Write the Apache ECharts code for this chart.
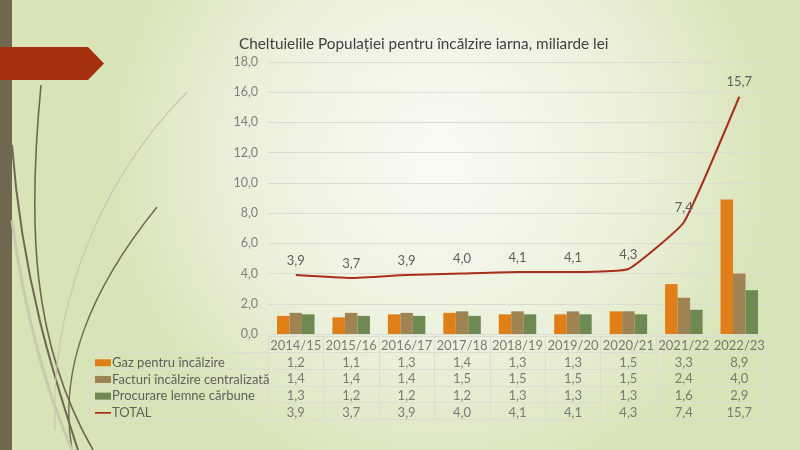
<!DOCTYPE html>
<html>
<head>
<meta charset="utf-8">
<script src="https://cdn.jsdelivr.net/npm/echarts@6/dist/echarts.min.js"></script>
<style>
  html, body { margin: 0; padding: 0; }
  #main { width: 800px; height: 450px; }
</style>
</head>
<body>
<div id="main"></div>
<script>
var categories = ['2014/15', '2015/16', '2016/17', '2017/18', '2018/19', '2019/20', '2020/21', '2021/22', '2022/23'];
var gaz = [1.2, 1.1, 1.3, 1.4, 1.3, 1.3, 1.5, 3.3, 8.9];
var facturi = [1.4, 1.4, 1.4, 1.5, 1.5, 1.5, 1.5, 2.4, 4.0];
var procurare = [1.3, 1.2, 1.2, 1.2, 1.3, 1.3, 1.3, 1.6, 2.9];
var total = [3.9, 3.7, 3.9, 4.0, 4.1, 4.1, 4.3, 7.4, 15.7];
var seriesNames = ['Gaz pentru încălzire', 'Facturi încălzire centralizată', 'Procurare lemne cărbune', 'TOTAL'];
var tableRows = ['hdr', 'gaz', 'facturi', 'procurare', 'total'];

var FONT = 'Lato';
var TXT = '#5f5f5f';
var GRIDC = '#dcdcd4';

function fmt(v) { return v.toFixed(1).replace('.', ','); }

// celule tabel de date
var cells = [];
categories.forEach(function (c, i) {
    cells.push([i, 0, c]);
    cells.push([i, 1, fmt(gaz[i])]);
    cells.push([i, 2, fmt(facturi[i])]);
    cells.push([i, 3, fmt(procurare[i])]);
    cells.push([i, 4, fmt(total[i])]);
});

var myChart = echarts.init(document.getElementById('main'));

var rowLines = [352.7, 369.3, 386, 402.7, 419.3];
var graphics = [
    { type: 'rect', shape: { x: 0, y: 0, width: 12, height: 450 }, style: { fill: '#6f6750' }, z: -5 },
    { type: 'polygon', shape: { points: [[0, 47], [88, 47], [104, 63.5], [88, 80], [0, 80]] }, style: { fill: '#a5300f' }, z: 5 },
    // linii decorative
    { type: 'bezierCurve', shape: { x1: 12, y1: 145, x2: 78, y2: 450, cpx1: 22, cpy1: 280, cpx2: 55, cpy2: 380 }, style: { stroke: '#6f6750', lineWidth: 2, fill: null }, z: -4 },
    { type: 'bezierCurve', shape: { x1: 41, y1: 85, x2: 93, y2: 450, cpx1: 28, cpy1: 220, cpx2: 30, cpy2: 340 }, style: { stroke: '#6f6750', lineWidth: 1.6, fill: null }, z: -4 },
    { type: 'bezierCurve', shape: { x1: 157, y1: 207, x2: 72, y2: 450, cpx1: 90, cpy1: 290, cpx2: 58, cpy2: 370 }, style: { stroke: '#6f6750', lineWidth: 1.4, fill: null }, z: -4 },
    { type: 'bezierCurve', shape: { x1: 187, y1: 92, x2: 55, y2: 430, cpx1: 90, cpy1: 190, cpx2: 50, cpy2: 320 }, style: { stroke: '#c9c8b0', lineWidth: 1.2, fill: null }, z: -4 },
    { type: 'bezierCurve', shape: { x1: 12, y1: 220, x2: 72, y2: 450, cpx1: 25, cpy1: 320, cpx2: 50, cpy2: 400 }, style: { stroke: '#c8ccac', lineWidth: 3, fill: null }, z: -4 },
    { type: 'line', shape: { x1: 89, y1: 352.7, x2: 89, y2: 419.3 }, style: { stroke: GRIDC, lineWidth: 1 } }
];
rowLines.forEach(function (y) {
    graphics.push({ type: 'line', shape: { x1: 89, y1: y, x2: 268, y2: y }, style: { stroke: GRIDC, lineWidth: 1 } });
});

var option = {
    animation: false,
    backgroundColor: {
        type: 'radial', x: 0.55, y: 0.35, r: 0.75,
        colorStops: [{ offset: 0, color: '#fafbf4' }, { offset: 0.6, color: '#ebf0db' }, { offset: 1, color: '#d8e3b6' }]
    },
    textStyle: { fontFamily: FONT },
    title: {
        text: 'Cheltuielile Populației pentru încălzire iarna, miliarde lei',
        left: 234, top: 32,
        textStyle: { fontFamily: FONT, fontSize: 15.3, fontWeight: 'normal', color: '#404040' }
    },
    legend: {
        orient: 'vertical', left: 90, top: 351,
        itemWidth: 16, itemHeight: 7, itemGap: 3.2,
        textStyle: { fontFamily: FONT, fontSize: 13, lineHeight: 13.5, color: TXT, padding: [0, 0, 0, -4] },
        data: [
            { name: seriesNames[0], icon: 'rect' },
            { name: seriesNames[1], icon: 'rect' },
            { name: seriesNames[2], icon: 'rect' },
            { name: seriesNames[3], icon: 'path://M0,0 H20 V2.2 H0 Z' }
        ]
    },
    graphic: graphics,
    grid: [
        { left: 268, width: 499, top: 62, height: 272 },
        { left: 268, width: 499, top: 336, height: 83.3 }
    ],
    xAxis: [
        { type: 'category', gridIndex: 0, data: categories, axisLine: { show: false }, axisTick: { show: false }, axisLabel: { show: false } },
        { type: 'category', gridIndex: 1, data: categories, axisLine: { show: false }, axisTick: { show: false }, axisLabel: { show: false },
          splitLine: { show: true, interval: 0, lineStyle: { color: GRIDC } } }
    ],
    yAxis: [
        { type: 'value', gridIndex: 0, min: 0, max: 18, interval: 2,
          axisLabel: { formatter: fmt, color: '#808080', fontSize: 12.5, fontFamily: FONT, margin: 10 },
          splitLine: { lineStyle: { color: GRIDC } } },
        { type: 'category', gridIndex: 1, data: tableRows, inverse: true, axisLine: { show: false }, axisTick: { show: false }, axisLabel: { show: false },
          splitLine: { show: true, interval: 0, lineStyle: { color: GRIDC } } }
    ],
    series: [
        { name: seriesNames[0], type: 'bar', data: gaz, barWidth: 12.5, barGap: '0%', itemStyle: { color: '#e07f18' } },
        { name: seriesNames[1], type: 'bar', data: facturi, barWidth: 12.5, barGap: '0%', itemStyle: { color: '#a08352' } },
        { name: seriesNames[2], type: 'bar', data: procurare, barWidth: 12.5, barGap: '0%', itemStyle: { color: '#6e8a52' } },
        { name: seriesNames[3], type: 'line', data: total, smooth: 0.12, symbol: 'circle', symbolSize: 0.1, showSymbol: true,
          lineStyle: { color: '#a8301a', width: 2 }, itemStyle: { color: '#a8301a' },
          label: { show: true, position: 'top', distance: 8, formatter: function (p) { return fmt(p.value); }, color: TXT, fontSize: 13, fontFamily: FONT },
          z: 5 },
        { type: 'scatter', xAxisIndex: 1, yAxisIndex: 1, data: cells, symbolSize: 1, itemStyle: { color: 'rgba(0,0,0,0)' },
          label: { show: true, position: 'inside', offset: [0, 1.5], formatter: function (p) { return p.value[2]; }, color: TXT, fontSize: 13, fontFamily: FONT },
          silent: true }
    ]
};
myChart.setOption(option);
</script>
</body>
</html>
